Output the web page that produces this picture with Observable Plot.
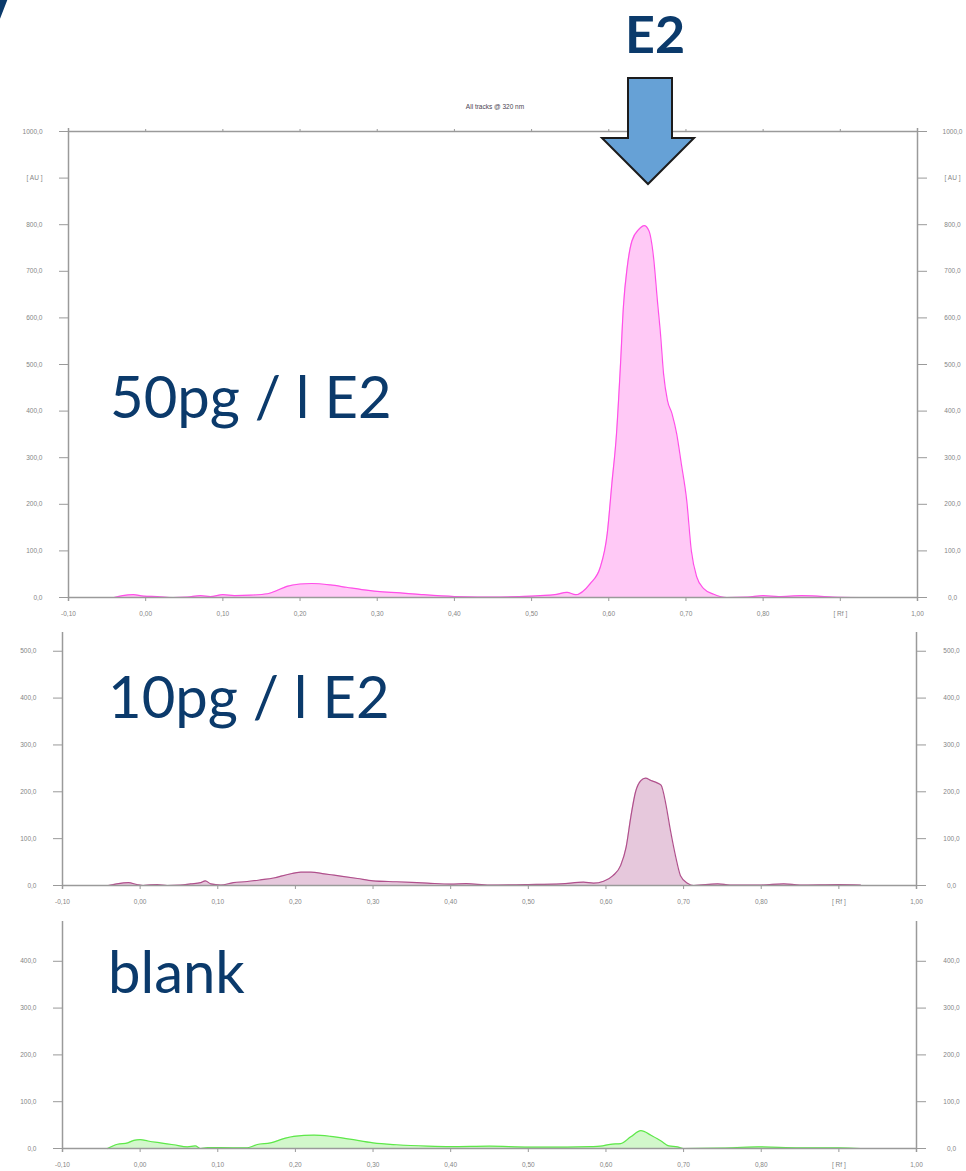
<!DOCTYPE html>
<html><head><meta charset="utf-8">
<script src="https://cdn.jsdelivr.net/npm/d3@7"></script>
<script src="https://cdn.jsdelivr.net/npm/@observablehq/plot@0.6"></script>
<style>
body{margin:0;background:#fff;width:966px;height:1171px;position:relative;overflow:hidden;font-family:"Liberation Sans",Arial,sans-serif}
.abs{position:absolute}
.lbl{font-family:Lato,"Open Sans",sans-serif;color:#0b3a6b;font-size:58px;line-height:1;white-space:nowrap}
#p1,#p2,#p3{position:absolute;left:0}
</style></head><body>
<div class="abs lbl" style="left:-22px;top:-52px;font-size:100px;font-weight:700">/</div>
<div class="abs lbl" style="left:625px;top:7px;font-size:52px;font-weight:700">E2</div>
<div class="abs" style="left:395px;top:103px;width:200px;text-align:center;font-size:6.5px;color:#4a4450">All tracks @ 320 nm</div>
<div id="p1" style="top:95px"></div>
<div id="p2" style="top:620px"></div>
<div id="p3" style="top:900px"></div>
<div class="abs lbl" style="left:110px;top:367px">50pg / l E2</div>
<div class="abs lbl" style="left:108px;top:667px">10pg / l E2</div>
<div class="abs lbl" style="left:108px;top:942px">blank</div>
<svg class="abs" style="left:0;top:0" width="966" height="200">
  <polygon points="628,78 672,78 672,138 694,138 648,184 602,138 628,138" fill="#66a1d6" stroke="#1c1c1c" stroke-width="2"/>
</svg>
<script>
// ---- tick values and labels ----
const xTicks = [-0.1, 0, 0.1, 0.2, 0.3, 0.4, 0.5, 0.6, 0.7, 0.8, 0.9, 1.0];
const xTickLabels = ["-0,10","0,00","0,10","0,20","0,30","0,40","0,50","0,60","0,70","0,80","[ Rf ]","1,00"];
const yTicks1 = [0,100,200,300,400,500,600,700,800,900,1000];
const yTickLabels1 = ["0,0","100,0","200,0","300,0","400,0","500,0","600,0","700,0","800,0","[ AU ]","1000,0"];
const yTicks2 = [0,100,200,300,400,500];
const yTickLabels2 = ["0,0","100,0","200,0","300,0","400,0","500,0"];
const yTicks3 = [0,100,200,300,400];
const yTickLabels3 = ["0,0","100,0","200,0","300,0","400,0"];

// ---- 50 pg / l E2 (Rf, AU) ----
const rf50 = [-0.041,-0.03,-0.016,-0.003,0.015,0.036,0.054,0.071,0.084,0.10,0.115,0.136,0.158,0.170,0.183,0.200,0.215,0.239,0.26,0.28,0.30,0.33,0.36,0.40,0.43,0.46,0.50,0.511,0.530,0.546,0.557,0.576,0.589,0.598,0.604,0.610,0.615,0.619,0.624,0.630,0.639,0.646,0.652,0.658,0.663,0.667,0.671,0.676,0.682,0.688,0.694,0.701,0.707,0.714,0.723,0.736,0.753,0.78,0.80,0.82,0.85,0.87,0.89,0.926];
const au50 = [0,4,6,3,2,0,1,4,2,6,4,5,8,15,24,29,30,27,22,17,13,10,6,2,1,1,3,4,6,11,6,30,65,137,244,351,494,625,710,765,790,798,787,730,637,566,480,423,394,351,287,208,100,44,19,7,0,1,4,2,4,3,1,0];

// ---- 10 pg / l E2 ----
const rf10 = [-0.041,-0.03,-0.015,-0.004,0.004,0.013,0.022,0.035,0.052,0.065,0.078,0.084,0.091,0.104,0.12,0.138,0.155,0.172,0.19,0.207,0.22,0.237,0.25,0.28,0.30,0.33,0.37,0.40,0.42,0.45,0.50,0.542,0.571,0.584,0.597,0.609,0.619,0.626,0.632,0.638,0.645,0.651,0.658,0.666,0.671,0.677,0.683,0.690,0.696,0.705,0.713,0.744,0.76,0.80,0.829,0.85,0.90,0.928];
const au10 = [0,3.5,6,2,0,1.5,2,0,1,3.5,6,10,3.5,1,6,8.5,12,16,23.5,28.5,28.5,25,22,15,10,8,5,3,4,1,2,3.5,7,5,9,21,43,82,146,199,224,229,224,219,214,175,118,60,21,5,0,3.5,1,1,3.5,1,2,1];

// ---- blank ----
const rfBlank = [-0.042,-0.029,-0.016,-0.008,0.0,0.01,0.026,0.043,0.061,0.071,0.078,0.087,0.12,0.138,0.151,0.168,0.185,0.198,0.224,0.245,0.27,0.30,0.33,0.37,0.40,0.45,0.50,0.55,0.58,0.593,0.606,0.619,0.632,0.645,0.658,0.671,0.681,0.692,0.700,0.75,0.796,0.85,0.90,0.928];
const auBlank = [0,9,12,17.5,19,16,12,8,3.5,5.5,0,2,1.5,1.5,8.5,12,21,26,28.5,26,20,12,8,5,4,5,3,3,4,5,9,10.5,25,38,28.5,16,5.5,3.5,0,1,3.5,1.5,1.5,0];

const xMap = new Map(xTicks.map((t,i)=>[t,xTickLabels[i]]));

function panel({rf, au, yDomain, yTicks, yLabels, height, marginTop, marginLeft, marginRight, stroke, fill, topFrame}) {
  const data = rf.map((r,i)=>({rf:r, au:au[i]}));
  const yMap = new Map(yTicks.map((t,i)=>[t,yLabels[i]]));
  const axisC = "#9a9a9a";
  return Plot.plot({
    width: 966, height, marginTop, marginBottom: 22, marginLeft, marginRight,
    x: {domain: [-0.1, 1.0]},
    y: {domain: yDomain},
    style: {fontFamily: "Liberation Sans, Arial, sans-serif", fontSize: "6.5px", color: "#858585", background: "transparent", overflow: "visible"},
    marks: [
      Plot.areaY(data, {x: "rf", y: "au", fill, curve: "monotone-x"}),
      Plot.lineY(data, {x: "rf", y: "au", stroke, strokeWidth: 1.2, curve: "monotone-x"}),
      Plot.ruleX([-0.1, 1.0], {stroke: axisC, strokeWidth: 1.5, insetBottom: -4, insetTop: topFrame ? -3 : 0}),
      Plot.ruleY(topFrame ? [0, 1000] : [0], {stroke: axisC, strokeWidth: 1.5}),
      Plot.axisX({anchor: "bottom", ticks: xTicks, tickFormat: d => xMap.get(d), tickSize: 4, tickPadding: 10, stroke: axisC, label: null}),
      topFrame ? Plot.axisX({anchor: "top", ticks: xTicks, tickFormat: () => "", tickSize: 3, stroke: axisC, label: null}) : null,
      Plot.axisY({anchor: "left", ticks: yTicks, tickFormat: d => yMap.get(d), tickSize: 9, tickPadding: 17, stroke: axisC, label: null}),
      Plot.axisY({anchor: "right", ticks: yTicks, tickFormat: d => yMap.get(d), tickSize: 9, tickPadding: 26, textAnchor: "middle", stroke: axisC, label: null})
    ]
  });
}

document.getElementById("p1").append(panel({rf: rf50, au: au50, yDomain: [0, 1000], yTicks: yTicks1, yLabels: yTickLabels1,
  height: 524, marginTop: 36, marginLeft: 68, marginRight: 49, stroke: "#ff4fe8", fill: "#ffc9f6", topFrame: true}));
document.getElementById("p2").append(panel({rf: rf10, au: au10, yDomain: [0, 540], yTicks: yTicks2, yLabels: yTickLabels2,
  height: 287, marginTop: 12, marginLeft: 62, marginRight: 50, stroke: "#b0508c", fill: "#e6c8dc", topFrame: false}));
document.getElementById("p3").append(panel({rf: rfBlank, au: auBlank, yDomain: [0, 485], yTicks: yTicks3, yLabels: yTickLabels3,
  height: 270, marginTop: 21, marginLeft: 62, marginRight: 50, stroke: "#5ee84a", fill: "#d2f7cb", topFrame: false}));
</script>
</body></html>
